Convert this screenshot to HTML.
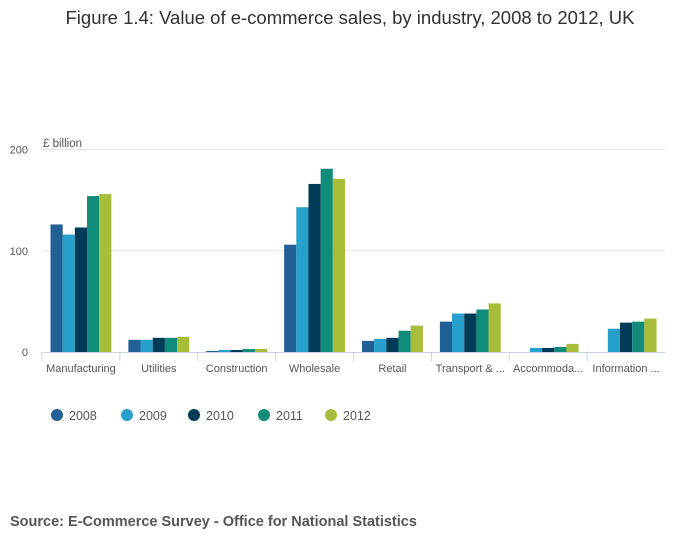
<!DOCTYPE html>
<html><head><meta charset="utf-8"><style>
body{margin:0;background:#fff;font-family:"Liberation Sans",sans-serif;}
svg text{font-family:"Liberation Sans",sans-serif;}
</style></head><body>
<svg width="700" height="549" id="c">
<text x="350" y="24" text-anchor="middle" font-size="18.5" fill="#323132">Figure 1.4: Value of e-commerce sales, by industry, 2008 to 2012, UK</text>
<text x="43" y="147" font-size="11.5" fill="#555">£ billion</text>
<text x="10" y="526" font-size="14.5" font-weight="bold" fill="#555">Source: E-Commerce Survey - Office for National Statistics</text>
</svg>
<script>
const categories=["Manufacturing","Utilities","Construction","Wholesale","Retail","Transport & ...","Accommoda...","Information ..."];
const years=["2008","2009","2010","2011","2012"];
const s2008=[126,12,1,106,11,30,null,null];
const s2009=[116,12,2,143,13,38,4,23];
const s2010=[123,14,2,166,14,38,4,29];
const s2011=[154,14,3,181,21,42,5,30];
const s2012=[156,15,3,171,26,48,8,33];
const yTicks=[0,100,200];
const colors=["#206095","#27a0cc","#003c57","#118c7b","#a8bd3a"];
const series=[s2008,s2009,s2010,s2011,s2012];
const svg=document.getElementById('c');const NS="http://www.w3.org/2000/svg";
const x0=42,x1=665,y0=352,y200=149.5;
const y=v=>y0-(v/200)*(y0-y200);
const bw=(x1-x0)/categories.length;
function mk(t,a){const e=document.createElementNS(NS,t);for(const k in a)e.setAttribute(k,a[k]);svg.appendChild(e);return e;}
yTicks.forEach(t=>{
 if(t>0){const g=mk('line',{x1:x0,x2:x1,y1:y(t),y2:y(t),stroke:'#e2e2e2'});
 
 }
 const l=mk('text',{x:28,y:y(t)+4,'font-size':11,fill:'#555','text-anchor':'end'});l.textContent=t;
 
 
});
const ax=mk('line',{x1:x0,x2:x1,y1:y0+0.5,y2:y0+0.5,stroke:'#c8d3e6'});


const pad=8.5,barW=(bw-2*pad)/5;
categories.forEach((c,i)=>{
 const tk=mk('line',{x1:x0+i*bw,x2:x0+i*bw,y1:y0,y2:y0+9,stroke:'#c8d3e6'});
 
 
 const l=mk('text',{x:x0+(i+0.5)*bw,y:y0+20,'font-size':11,fill:'#555','text-anchor':'middle'});l.textContent=c;
 
 
 series.forEach((s,j)=>{
  if(s[i]==null)return;
  const r=mk('rect',{x:x0+i*bw+pad+j*barW,y:y(s[i]),width:barW,height:y0-y(s[i]),fill:colors[j]});
  
  
 });
});
const lx=[57,127,194,264,331];
years.forEach((yr,j)=>{
 const ci=mk('circle',{cx:lx[j],cy:415,r:6,fill:colors[j]});
 
 
 const t=mk('text',{x:lx[j]+12,y:420,'font-size':12.5,fill:'#555'});t.textContent=yr;
 
 
});
</script>
</body></html>
